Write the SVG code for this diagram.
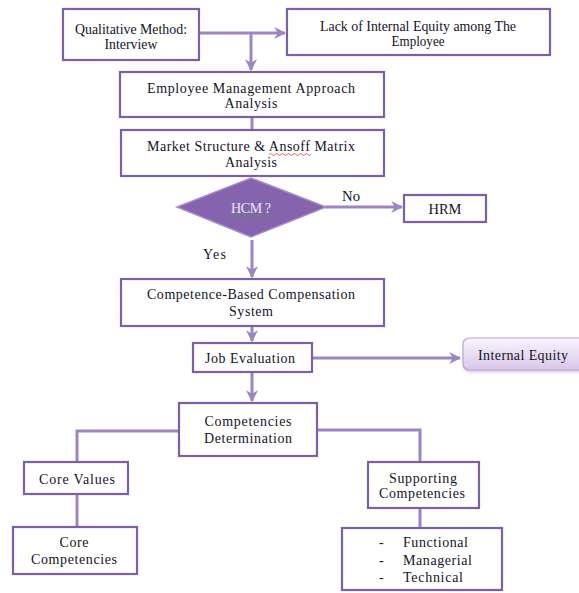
<svg xmlns="http://www.w3.org/2000/svg" width="579" height="593" viewBox="0 0 579 593">
<style>
.box{fill:#ffffff;stroke:#7b60a8;stroke-width:2.2}
.t{font-family:"Liberation Serif","Times New Roman",serif;font-size:14px;fill:#15131f;text-anchor:middle}
.l{font-family:"Liberation Serif","Times New Roman",serif;font-size:14px;fill:#15131f}
.c{fill:none;stroke:#9a86c2;stroke-width:3}
.sq{fill:none;stroke-width:0.8}
</style>
<defs>
<marker id="ah" viewBox="0 0 10 10" refX="9" refY="5" markerWidth="4" markerHeight="4" orient="auto" markerUnits="strokeWidth">
<path d="M0,0 L10,5 L0,10 L3,5 Z" fill="#9a86c2"/>
</marker>
<linearGradient id="ieg" x1="0" y1="0" x2="0" y2="1">
<stop offset="0" stop-color="#faf6fd"/>
<stop offset="1" stop-color="#d8c6ea"/>
</linearGradient>
<filter id="sh" x="-10%" y="-10%" width="130%" height="140%">
<feDropShadow dx="1" dy="2" stdDeviation="1.5" flood-color="#7b60a8" flood-opacity="0.3"/>
</filter>
</defs>
<rect width="579" height="593" fill="#ffffff"/>

<g id="connectors">
<path class="c" d="M199,33 H285" marker-end="url(#ah)"/>
<path class="c" d="M251,33 V70" marker-end="url(#ah)"/>
<path class="c" d="M252,117 V130"/>
<path class="c" d="M325,207 H402" marker-end="url(#ah)"/>
<path class="c" d="M252,240 V277" marker-end="url(#ah)"/>
<path class="c" d="M252,326 V341" marker-end="url(#ah)"/>
<path class="c" d="M312,358 H460" marker-end="url(#ah)"/>
<path class="c" d="M252,372 V401" marker-end="url(#ah)"/>
<path class="c" d="M179,431 H77 V462"/>
<path class="c" d="M317,430 H420 V462"/>
<path class="c" d="M77,494 V527"/>
<path class="c" d="M420,508 V528"/>
<text class="l" x="342" y="201" textLength="18" lengthAdjust="spacingAndGlyphs">No</text>
<text class="l" x="203" y="259" textLength="23" lengthAdjust="spacing">Yes</text>
</g>

<g id="qualitative">
<rect class="box" x="63" y="9" width="136" height="51"/>
<text class="t" x="131" y="34" textLength="112" lengthAdjust="spacingAndGlyphs">Qualitative Method:</text>
<text class="t" x="131" y="49" textLength="53" lengthAdjust="spacingAndGlyphs">Interview</text>
</g>

<g id="lack-equity">
<rect class="box" x="287" y="9" width="263" height="46"/>
<text class="t" x="418" y="31" textLength="196" lengthAdjust="spacingAndGlyphs">Lack of Internal Equity among The</text>
<text class="t" x="418" y="46" textLength="53" lengthAdjust="spacingAndGlyphs">Employee</text>
</g>

<g id="employee-management">
<rect class="box" x="120" y="72" width="264" height="45"/>
<text class="t" x="251" y="93" textLength="208" lengthAdjust="spacing">Employee Management Approach</text>
<text class="t" x="251" y="108" textLength="53" lengthAdjust="spacing">Analysis</text>
</g>

<g id="market-structure">
<rect class="box" x="121" y="130" width="263" height="46"/>
<text class="t" x="251" y="151" textLength="208" lengthAdjust="spacing">Market Structure &amp; Ansoff Matrix</text>
<path class="sq" stroke="#d43a3a" d="M269,154.5 q1.5,-2 3,0 t3,0 t3,0 t3,0 t3,0 t3,0 t3,0 t3,0 t3,0 t3,0 t3,0 t3,0 t3,0 t3,0"/>
<text class="t" x="251" y="167" textLength="52" lengthAdjust="spacing">Analysis</text>
</g>

<g id="hcm">
<polygon points="251,178 326,207 251,237 177,207" fill="#8563ad" stroke="#a48ccb" stroke-width="1.5"/>
<text class="t" x="251" y="213" style="fill:#efe8f6" textLength="40" lengthAdjust="spacing">HCM ?</text>
<path class="sq" stroke="#3aa84a" d="M231,216 q1.5,-2 3,0 t3,0 t3,0 t3,0 t3,0 t3,0 t3,0 t3,0 t3,0 t3,0 t3,0 t3,0 t3,0"/>
</g>

<g id="hrm">
<rect class="box" x="404" y="195" width="82" height="27"/>
<text class="t" x="445" y="214" textLength="33" lengthAdjust="spacingAndGlyphs">HRM</text>
</g>

<g id="competence-based">
<rect class="box" x="121" y="279" width="263" height="47"/>
<text class="t" x="251" y="299" textLength="208" lengthAdjust="spacing">Competence-Based Compensation</text>
<text class="t" x="251" y="316" textLength="44" lengthAdjust="spacing">System</text>
</g>

<g id="job-evaluation">
<rect class="box" x="193" y="343" width="119" height="29"/>
<text class="t" x="250" y="363" textLength="90" lengthAdjust="spacing">Job Evaluation</text>
</g>

<g id="internal-equity">
<rect x="463" y="338" width="122" height="32" rx="6" ry="6" fill="url(#ieg)" stroke="#b9a2d6" stroke-width="1.2" filter="url(#sh)"/>
<text class="t" x="523" y="360" textLength="90" lengthAdjust="spacing">Internal Equity</text>
</g>

<g id="competencies-determination">
<rect class="box" x="179" y="403" width="138" height="53"/>
<text class="t" x="248" y="426" textLength="87" lengthAdjust="spacing">Competencies</text>
<text class="t" x="248" y="443" textLength="88" lengthAdjust="spacing">Determination</text>
</g>

<g id="core-values">
<rect class="box" x="24" y="462" width="104" height="32"/>
<text class="t" x="77" y="484" textLength="76" lengthAdjust="spacing">Core Values</text>
</g>

<g id="core-competencies">
<rect class="box" x="13" y="527" width="124" height="47"/>
<text class="t" x="74" y="547" textLength="29" lengthAdjust="spacing">Core</text>
<text class="t" x="74" y="564" textLength="86" lengthAdjust="spacing">Competencies</text>
</g>

<g id="supporting-competencies">
<rect class="box" x="368" y="462" width="111" height="46"/>
<text class="t" x="423" y="483" textLength="68" lengthAdjust="spacing">Supporting</text>
<text class="t" x="422" y="498" textLength="86" lengthAdjust="spacing">Competencies</text>
</g>

<g id="competency-list">
<rect class="box" x="342" y="528" width="160" height="62"/>
<text class="l" x="379" y="547">-</text>
<text class="l" x="403" y="547" textLength="65" lengthAdjust="spacing">Functional</text>
<text class="l" x="379" y="565">-</text>
<text class="l" x="403" y="565" textLength="69" lengthAdjust="spacing">Managerial</text>
<text class="l" x="379" y="582">-</text>
<text class="l" x="403" y="582" textLength="60" lengthAdjust="spacing">Technical</text>
</g>
</svg>
